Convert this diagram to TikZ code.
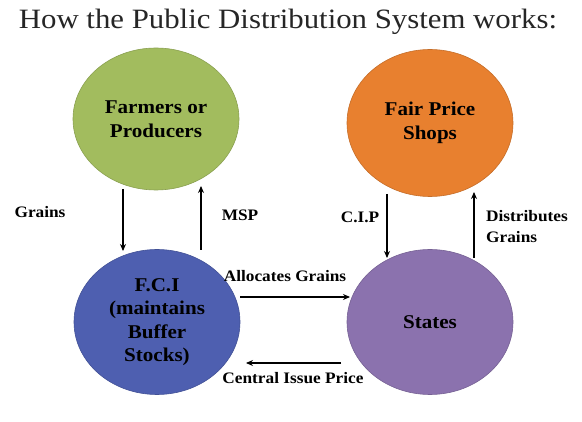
\documentclass[tikz,border=0pt]{standalone}
\usepackage{fontspec}
\setmainfont{Liberation Serif}[FakeStretch=1.08]
\newfontfamily\titlefont{Liberation Serif}[FakeStretch=1.1]
\usetikzlibrary{shapes.geometric,arrows.meta}
\definecolor{cgreen}{HTML}{A2BC5E}
\definecolor{corange}{HTML}{E8802F}
\definecolor{cblue}{HTML}{4E5FB0}
\definecolor{cpurple}{HTML}{8B72AE}
\tikzset{
  blob/.style={ellipse, minimum width=166pt, minimum height=142pt, inner sep=0pt,
    align=center, font=\fontsize{19.5}{24}\selectfont\bfseries, line width=0.6pt},
  lbl/.style={font=\fontsize{16}{21}\selectfont\bfseries, inner sep=0pt},
  flow/.style={line width=1.1pt, -{Stealth[length=7pt,width=6pt]}}
}
\begin{document}
\begin{tikzpicture}[x=1pt,y=-1pt]
\useasboundingbox[fill=white] (0,0) rectangle (582,422);
\node[font=\titlefont\fontsize{28}{30}\selectfont, text=black!85, inner sep=0pt] (title) at (288,22) {How the Public Distribution System works:};

\node[blob, fill=cgreen, draw=cgreen!85!black] (farm) at (156,119) {Farmers or\\Producers};
\node[blob, fill=corange, draw=corange!85!black, minimum height=147pt] (shop) at (430,123) {Fair Price\\Shops};
\node[blob, fill=cblue, draw=cblue!85!black, minimum height=145pt, font=\fontsize{19.5}{23.5}\selectfont\bfseries] (fci) at (157,322) {F.C.I\\(maintains\\Buffer\\Stocks)};
\node[blob, fill=cpurple, draw=cpurple!85!black, minimum height=145pt] (state) at (430,322) {States};

% arrow endpoints
\coordinate (g1) at (123,189);
\coordinate (g2) at (123,251);
\coordinate (m1) at (201,250);
\coordinate (m2) at (201,186);
\coordinate (c1) at (387,194);
\coordinate (c2) at (387,258);
\coordinate (d1) at (474,258);
\coordinate (d2) at (474,192);
\coordinate (a1) at (240,297);
\coordinate (a2) at (350,297);
\coordinate (p1) at (341,363);
\coordinate (p2) at (246,363);

\draw[flow] (g1) -- (g2);
\draw[flow] (m1) -- (m2);
\draw[flow] (c1) -- (c2);
\draw[flow] (d1) -- (d2);
\draw[flow] (a1) -- (a2);
\draw[flow] (p1) -- (p2);

\node[lbl] (lg) at (40,212) {Grains};
\node[lbl] (lm) at (240,215) {MSP};
\node[lbl] (lc) at (360,217) {C.I.P};
\node[lbl, align=left, anchor=west] (ld) at (486,227) {Distributes\\Grains};
\node[lbl] (la) at (285,276) {Allocates Grains};
\node[lbl] (lp) at (293,378) {Central Issue Price};
\end{tikzpicture}
\end{document}
